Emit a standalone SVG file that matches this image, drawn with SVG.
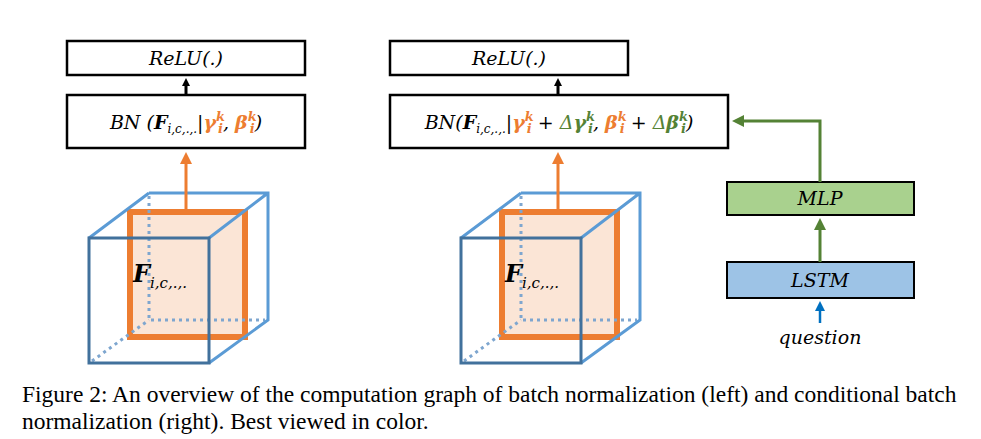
<svg xmlns="http://www.w3.org/2000/svg" width="981" height="439" viewBox="0 0 981 439">
<style>
.box{fill:#fff;stroke:#000;stroke-width:2.5}
.m{font-family:"DejaVu Serif","Liberation Serif",serif;font-style:italic;font-size:19px;text-anchor:middle}
.b{font-weight:bold}
.o{fill:#ed7d31}.g{fill:#548235}
.cap{font-family:"Liberation Serif",serif;font-size:23.5px}
.lb{stroke:#5b9bd5;stroke-width:3;fill:none}
.db{stroke:#41719c;stroke-width:3;fill:none}
.dot{stroke:#7ea6cf;stroke-width:3;stroke-dasharray:3,4;fill:none}
.sq{fill:#fbe5d6;stroke:#ed7d31;stroke-width:6}
</style>
<defs>
<marker id="ab" markerWidth="8" markerHeight="8" refX="4" refY="4" orient="auto" markerUnits="userSpaceOnUse"><path d="M0,0L8,4L0,8z" fill="#000"/></marker>
<marker id="ao" markerWidth="12" markerHeight="12" refX="6" refY="6" orient="auto" markerUnits="userSpaceOnUse"><path d="M0,0L12,6L0,12z" fill="#ed7d31"/></marker>
<marker id="ag" markerWidth="12" markerHeight="12" refX="6" refY="6" orient="auto" markerUnits="userSpaceOnUse"><path d="M0,0L12,6L0,12z" fill="#548235"/></marker>
<marker id="au" markerWidth="10" markerHeight="10" refX="5" refY="5" orient="auto" markerUnits="userSpaceOnUse"><path d="M0,0L10,5L0,10z" fill="#0070c0"/></marker>
</defs>
<g id="cube-left">
<rect class="sq" x="130" y="212" width="115" height="125"/>
<path class="dot" d="M149,196V320H265M92,361L149,320"/>
<path class="lb" d="M149,193H268V320L209,363M89,238L149,193M209,238L268,193"/>
<rect class="db" x="89" y="238" width="120" height="125"/>
<text class="m b" x="160" y="282" text-anchor="start" style="font-size:24px">F<tspan font-weight="normal" font-size="15" dy="6">i,c,.,.</tspan></text>
</g>
<g id="cube-right" transform="translate(372,0)">
<rect class="sq" x="130" y="212" width="115" height="125"/>
<path class="dot" d="M149,196V320H265M92,361L149,320"/>
<path class="lb" d="M149,193H268V320L209,363M89,238L149,193M209,238L268,193"/>
<rect class="db" x="89" y="238" width="120" height="125"/>
<text class="m b" x="160" y="282" text-anchor="start" style="font-size:24px">F<tspan font-weight="normal" font-size="15" dy="6">i,c,.,.</tspan></text>
</g>
<g id="relu-left"><rect class="box" x="67" y="41" width="238" height="34"/><text class="m" x="186" y="65">ReLU(.)</text></g>
<g id="bn-left"><rect class="box" x="67" y="95" width="238" height="53"/>
<text class="m" x="186" y="129">BN (<tspan class="b">F</tspan><tspan font-size="12" dy="4">i,c,.,.</tspan><tspan dy="-4">|</tspan><tspan class="o b">γ</tspan><tspan class="o b" font-size="13" dy="-8">k</tspan><tspan class="o b" font-size="13" dx="-7" dy="12">i</tspan><tspan dy="-4">, </tspan><tspan class="o b">β</tspan><tspan class="o b" font-size="13" dy="-8">k</tspan><tspan class="o b" font-size="13" dx="-7" dy="12">i</tspan><tspan dy="-4">)</tspan></text></g>
<g id="relu-right"><rect class="box" x="390" y="41" width="238" height="34"/><text class="m" x="509" y="65">ReLU(.)</text></g>
<g id="bn-right"><rect class="box" x="390" y="95" width="338" height="53"/>
<text class="m" x="559" y="129">BN(<tspan class="b">F</tspan><tspan font-size="12" dy="4">i,c,.,.</tspan><tspan dy="-4">|</tspan><tspan class="o b">γ</tspan><tspan class="o b" font-size="13" dy="-8">k</tspan><tspan class="o b" font-size="13" dx="-7" dy="12">i</tspan><tspan dy="-4"> + </tspan><tspan class="g">Δ</tspan><tspan class="g b">γ</tspan><tspan class="g b" font-size="13" dy="-8">k</tspan><tspan class="g b" font-size="13" dx="-7" dy="12">i</tspan><tspan dy="-4">, </tspan><tspan class="o b">β</tspan><tspan class="o b" font-size="13" dy="-8">k</tspan><tspan class="o b" font-size="13" dx="-7" dy="12">i</tspan><tspan dy="-4"> + </tspan><tspan class="g">Δ</tspan><tspan class="g b">β</tspan><tspan class="g b" font-size="13" dy="-8">k</tspan><tspan class="g b" font-size="13" dx="-7" dy="12">i</tspan><tspan dy="-4">)</tspan></text></g>
<g id="mlp"><rect x="727" y="182" width="187" height="33" fill="#a9d18e" stroke="#000" stroke-width="2"/><text class="m" x="820" y="205">MLP</text></g>
<g id="lstm"><rect x="727" y="262" width="187" height="36" fill="#9dc3e6" stroke="#000" stroke-width="2"/><text class="m" x="820" y="287">LSTM</text></g>
<g id="question"><text class="m" x="820" y="344">question</text></g>
<g id="connectors">
<path d="M186,95V82" stroke="#000" stroke-width="3" marker-end="url(#ab)"/>
<path d="M186,210V158" stroke="#ed7d31" stroke-width="3" marker-end="url(#ao)"/>
<path d="M558,95V82" stroke="#000" stroke-width="3" marker-end="url(#ab)"/>
<path d="M558,210V158" stroke="#ed7d31" stroke-width="3" marker-end="url(#ao)"/>
<path d="M820,182V121H738" stroke="#548235" stroke-width="3" fill="none" marker-end="url(#ag)"/>
<path d="M820,262V224" stroke="#548235" stroke-width="3" marker-end="url(#ag)"/>
<path d="M820,323V306" stroke="#0070c0" stroke-width="2.5" marker-end="url(#au)"/>
</g>
<text class="cap" x="22" y="402">Figure 2: An overview of the computation graph of batch normalization (left) and conditional batch</text>
<text class="cap" x="22" y="429">normalization (right). Best viewed in color.</text>
</svg>
